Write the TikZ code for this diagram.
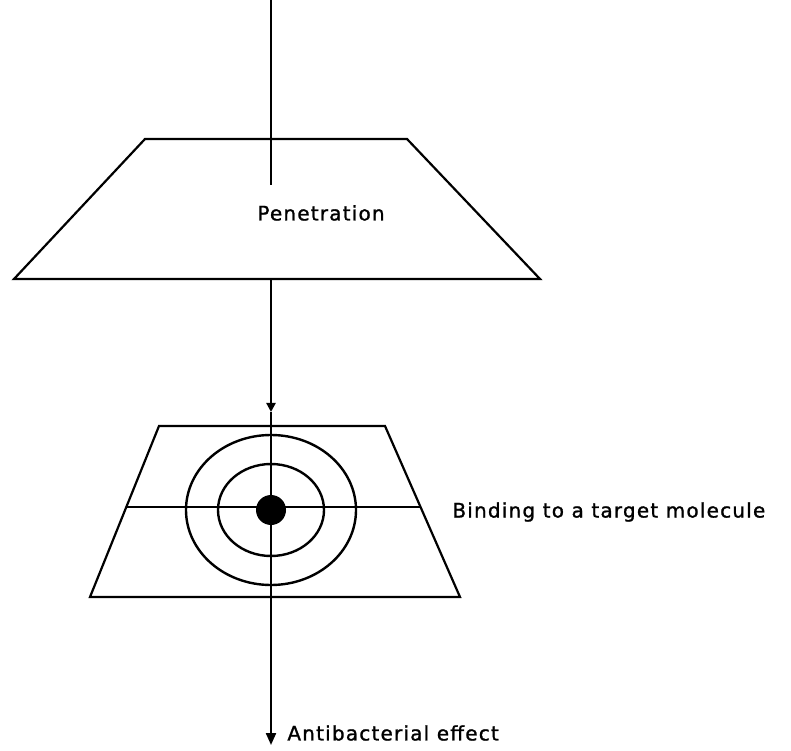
\documentclass[tikz,border=0pt]{standalone}
\usepackage{fontspec}
\setmainfont{DejaVu Sans}[LetterSpace=6, FakeBold=1.2]
\usetikzlibrary{arrows.meta, positioning}

\begin{document}
\begin{tikzpicture}[
                x=0.5pt, y=0.5pt,
                wall/.style={line width=1.1pt, line join=miter},
                axis/.style={line width=1.1pt},
                ring/.style={line width=1.2pt},
                txt/.style={font=\fontsize{10}{12}\selectfont, inner sep=0pt, anchor=west}
            ]
            \useasboundingbox (0,0) rectangle (791,750);

            % Enveloppe : penetration
            \coordinate (envTL) at (145,611);
            \coordinate (envTR) at (407,611);
            \coordinate (envBR) at (540,471);
            \coordinate (envBL) at (14,471);
            \draw[wall] (envTL) -- (envTR) -- (envBR) -- (envBL) -- cycle;
            \node[txt] (pen) at (257,537) {Penetration};

            % Cible : plan et anneaux
            \coordinate (tgtTL) at (159,324);
            \coordinate (tgtTR) at (385,324);
            \coordinate (tgtBR) at (460,153);
            \coordinate (tgtBL) at (90,153);
            \coordinate (midL) at (126,243);
            \coordinate (midR) at (421,243);
            \draw[wall] (tgtTL) -- (tgtTR) -- (tgtBR) -- (tgtBL) -- cycle;
            \draw[wall] (midL) -- (midR);
            \draw[ring] (271,240) ellipse [x radius=85, y radius=75];
            \draw[ring] (271,240) ellipse [x radius=53, y radius=46];
            \node[circle, fill, inner sep=0pt, minimum size=15pt] (target) at (271,240) {};
            \node[txt] (bind) at (452,238) {Binding to a target molecule};

            % Axe
            \coordinate (start) at (271,750);
            \coordinate (stop) at (271,565);
            \coordinate (exit) at (271,471);
            \coordinate (entry) at (271,338);
            \coordinate (tip) at (271,5);
            \draw[axis] (start) -- (stop);
            \draw[axis, -{Triangle[width=4.5pt, length=4.5pt]}] (exit) -- (entry);
            \draw[axis] (entry) -- (target);
            \draw[axis, -{Triangle[width=5pt, length=6pt]}] (target) -- (tip);
            \node[txt] (effect) at (287,17) {Antibacterial effect};
        \end{tikzpicture}
\end{document}
